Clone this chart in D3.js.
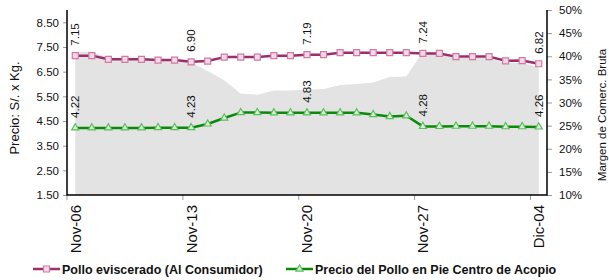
<!DOCTYPE html>
<html>
<head>
<meta charset="utf-8">
<script src="https://cdn.jsdelivr.net/npm/d3@7"></script>
<style>
  body { margin: 0; background: #fff; }
  svg { display: block; font-family: "Liberation Sans", Arial, sans-serif; }
</style>
</head>
<body>
<svg width="609" height="280"></svg>
<script>
(function() {
    'use strict';

    // Days shown on the x axis (one category per day)
    var days = ["Nov-06", "Nov-07", "Nov-08", "Nov-09", "Nov-10", "Nov-11", "Nov-12",
        "Nov-13", "Nov-14", "Nov-15", "Nov-16", "Nov-17", "Nov-18", "Nov-19",
        "Nov-20", "Nov-21", "Nov-22", "Nov-23", "Nov-24", "Nov-25", "Nov-26",
        "Nov-27", "Nov-28", "Nov-29", "Nov-30", "Dic-01", "Dic-02", "Dic-03", "Dic-04"];

    var tickDays = ["Nov-06", "Nov-13", "Nov-20", "Nov-27", "Dic-04"];

    // Pollo eviscerado (Al Consumidor), S/. x Kg.
    var consumidor = [7.15, 7.15, 7.00, 7.00, 7.00, 6.97, 6.97,
        6.90, 6.93, 7.09, 7.09, 7.09, 7.15, 7.15,
        7.19, 7.19, 7.27, 7.27, 7.27, 7.27, 7.27,
        7.24, 7.24, 7.11, 7.11, 7.11, 6.94, 6.95, 6.82];

    // Precio del Pollo en Pie Centro de Acopio, S/. x Kg.
    var acopio = [4.22, 4.22, 4.22, 4.22, 4.22, 4.23, 4.23,
        4.23, 4.38, 4.62, 4.84, 4.84, 4.83, 4.83,
        4.83, 4.83, 4.83, 4.83, 4.76, 4.68, 4.71,
        4.28, 4.28, 4.29, 4.29, 4.29, 4.27, 4.27, 4.26];

    // Margen de comercializacion bruta, % (gray area, right axis)
    var margen = [41.0, 41.0, 39.7, 39.7, 39.7, 39.3, 39.3,
        38.7, 36.8, 34.8, 31.9, 31.7, 32.6, 32.6,
        32.8, 32.9, 33.8, 34.0, 34.3, 35.5, 35.6,
        40.9, 40.9, 39.7, 39.7, 39.7, 38.5, 38.6, 37.5];

    var leftTicks = [1.5, 2.5, 3.5, 4.5, 5.5, 6.5, 7.5, 8.5];
    var rightTicks = [10, 15, 20, 25, 30, 35, 40, 45, 50];

    var svg = d3.select("svg"),
        plot = { left: 67, right: 547, top: 10, bottom: 195 };

    var x = d3.scaleBand()
        .domain(days)
        .range([plot.left, plot.right])
        .padding(0);

    var y = d3.scaleLinear()
        .domain([1.5, 9])
        .range([plot.bottom, plot.top]);

    var y2 = d3.scaleLinear()
        .domain([10, 50])
        .range([plot.bottom, plot.top]);

    function cx(d) {
        return x(d) + x.bandwidth() / 2;
    }

    // gray margin area
    var area = d3.area()
        .x(function(d, i) { return cx(days[i]); })
        .y0(plot.bottom)
        .y1(function(d) { return y2(d); });

    svg.append("path")
        .datum(margen)
        .attr("d", area)
        .attr("fill", "#e3e3e3");

    // axes
    var axisLeft = d3.axisLeft(y)
        .tickValues(leftTicks)
        .tickSize(4)
        .tickPadding(4)
        .tickFormat(d3.format(".2f"));

    var gl = svg.append("g")
        .attr("transform", "translate(" + plot.left + ",0)")
        .call(axisLeft);

    var axisRight = d3.axisRight(y2)
        .tickValues(rightTicks)
        .tickSize(5)
        .tickPadding(7)
        .tickFormat(function(d) { return d + "%"; });

    var gr = svg.append("g")
        .attr("transform", "translate(" + plot.right + ",0)")
        .call(axisRight);

    var axisBottom = d3.axisBottom(x)
        .tickValues(tickDays)
        .tickSize(5)
        .tickFormat("");

    var gb = svg.append("g")
        .attr("transform", "translate(" + (-x.bandwidth() / 2) + "," + plot.bottom + ")")
        .call(axisBottom);

    [gl, gr, gb].forEach(function(g) {
        g.select(".domain").remove();
        g.selectAll(".tick line").attr("stroke", "#999");
        g.selectAll(".tick text")
            .attr("fill", "#111")
            .style("font-size", "11.5px");
    });

    // axis frame (left, bottom, right)
    svg.append("path")
        .attr("d", "M" + plot.left + "," + plot.top + "V" + plot.bottom +
            "H" + plot.right + "V" + plot.top)
        .attr("fill", "none")
        .attr("stroke", "#000")
        .attr("stroke-width", 1.5);

    // x tick labels, rotated
    svg.append("g").selectAll("text")
        .data(tickDays)
        .enter().append("text")
        .attr("transform", function(d) {
            return "translate(" + cx(d) + "," + (plot.bottom + 10) + ") rotate(-90)";
        })
        .attr("text-anchor", "end")
        .attr("dy", "0.36em")
        .style("font-size", "15px")
        .attr("fill", "#111")
        .text(function(d) { return d; });

    // axis titles
    svg.append("text")
        .attr("transform", "translate(19,108) rotate(-90)")
        .attr("text-anchor", "middle")
        .style("font-size", "13px")
        .attr("fill", "#111")
        .text("Precio: S/. x Kg.");

    svg.append("text")
        .attr("transform", "translate(602,115) rotate(-90)")
        .attr("text-anchor", "middle")
        .attr("dy", "0.36em")
        .style("font-size", "11.5px")
        .attr("fill", "#111")
        .text("Margen de Comerc. Bruta");

    // series
    var series = [
        { name: "Pollo eviscerado (Al Consumidor)", values: consumidor,
            color: "#9b2f6e", mark: "#d07aa6", fill: "#f3d9e6", symbol: d3.symbolSquare, size: 36 },
        { name: "Precio del Pollo en Pie Centro de Acopio", values: acopio,
            color: "#0a8a0a", mark: "#5cbf5c", fill: "#d8f0d8", symbol: d3.symbolTriangle, size: 22 }
    ];

    var line = d3.line()
        .x(function(d, i) { return cx(days[i]); })
        .y(function(d) { return y(d); });

    series.forEach(function(s) {
        svg.append("path")
            .datum(s.values)
            .attr("d", line)
            .attr("fill", "none")
            .attr("stroke", s.color)
            .attr("stroke-width", 2.5)
            .attr("stroke-linejoin", "round");

        svg.append("g").selectAll("path")
            .data(s.values)
            .enter().append("path")
            .attr("d", d3.symbol().type(s.symbol).size(s.size))
            .attr("transform", function(d, i) {
                return "translate(" + cx(days[i]) + "," + y(d) + ")";
            })
            .attr("fill", s.fill)
            .attr("stroke", s.mark)
            .attr("stroke-width", 1.2);

        // value labels every 7 days
        svg.append("g").selectAll("text")
            .data(s.values.filter(function(d, i) { return i % 7 === 0; }))
            .enter().append("text")
            .attr("transform", function(d, i) {
                return "translate(" + cx(days[i * 7]) + "," + (y(d) - 10) + ") rotate(-90)";
            })
            .attr("dy", "0.36em")
            .style("font-size", "11.5px")
            .attr("fill", "#111")
            .text(function(d) { return d.toFixed(2); });
    });

    // legend
    var legendX = [33, 286];
    var legend = svg.append("g").selectAll("g")
        .data(series)
        .enter().append("g")
        .attr("transform", function(d, i) {
            return "translate(" + legendX[i] + ",269)";
        });

    legend.append("line")
        .attr("x1", 0).attr("x2", 27)
        .attr("stroke", function(d) { return d.color; })
        .attr("stroke-width", 2.5);

    legend.append("path")
        .attr("d", function(d) { return d3.symbol().type(d.symbol).size(d.size)(); })
        .attr("transform", "translate(13.5,0)")
        .attr("fill", function(d) { return d.fill; })
        .attr("stroke", function(d) { return d.mark; })
        .attr("stroke-width", 1.2);

    legend.append("text")
        .attr("x", 29)
        .attr("dy", "0.36em")
        .style("font-size", "12.5px")
        .style("font-weight", "bold")
        .attr("fill", "#111")
        .text(function(d) { return d.name; });
})();
</script>
</body>
</html>
